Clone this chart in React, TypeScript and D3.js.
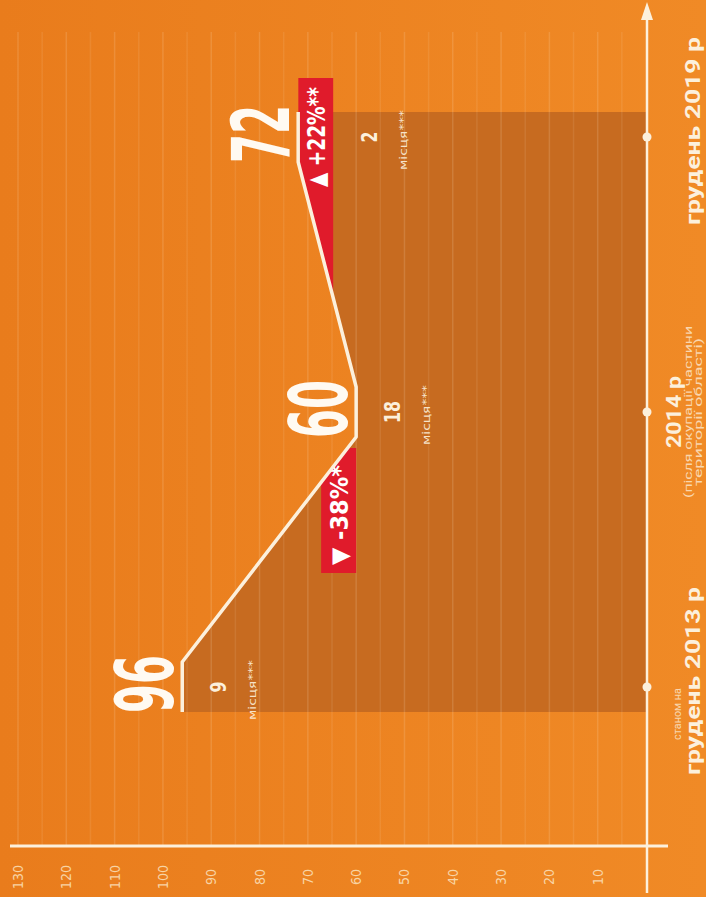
import React from 'react';
import * as d3 from 'd3';

const W = 706;
const H = 897;

// дані
const periods = ['грудень 2013 р', '2014 р', 'грудень 2019 р'];
const notesBefore = ['станом на', '', ''];
const notesAfter = [[], ['(після окупації частини', 'території області)'], []];
const counts = [96, 60, 72];
const places = ['9', '18', '2'];
const changeLabels = ['', '▼ -38%*', '▲ +22%**'];
const valueTicks = d3.range(10, 131, 10);
const gridTicks = d3.range(5, 131, 5);

const AREA = '#c76b20';
const CREAM = '#fcf0dc';
const RED = '#e01b2b';
const COND = "'Liberation Sans Narrow', 'DejaVu Sans Condensed', 'DejaVu Sans', sans-serif";
const SANS = "Roboto, 'Open Sans', 'DejaVu Sans', sans-serif";

const RText = ({ x, y, size, weight = 'normal', fill = CREAM, len, family = COND, opacity = 1, children }) => (
  <text
    transform={`translate(${x},${y}) rotate(-90)`}
    textAnchor="middle"
    fontSize={size}
    fontWeight={weight}
    fontFamily={family}
    fill={fill}
    opacity={opacity}
    textLength={len}
    lengthAdjust={len ? 'spacingAndGlyphs' : undefined}
  >
    {children}
  </text>
);

export default function App() {
  // value axis runs right-to-left, time axis bottom-to-top (chart is turned 90°)
  const vx = d3.scaleLinear().domain([0, 130]).range([646, 18]);
  const ty = d3.scalePoint().domain(periods).range([687, 137]);
  const half = 25;
  const axisX = vx(0) + 1;

  const pts = [];
  periods.forEach((p, i) => {
    pts.push({ y: ty(p) + half, v: counts[i] });
    pts.push({ y: ty(p) - half, v: counts[i] });
  });

  const area = d3.area().y(d => d.y).x0(vx(0)).x1(d => vx(d.v))(pts);
  const line = d3.line().x(d => vx(d.v)).y(d => d.y)(pts);

  // region to the right of the line, used to cut the red badges
  const last = pts[pts.length - 1];
  const clip = 'M' + vx(pts[0].v) + ',2000 ' +
    pts.map(d => `L${vx(d.v)},${d.y}`).join(' ') +
    ` L${vx(last.v)},-1000 L2000,-1000 L2000,2000 Z`;

  const badges = changeLabels.map((lab, i) => {
    if (!lab) return null;
    const c = ty(periods[i]);
    const x = vx(counts[i]);
    const up = counts[i] > counts[i - 1];
    return up
      ? { x0: x, x1: x + 35, y0: c - 59, y1: c + 200, tx: x + 27, ty: c, lab }
      : { x0: x - 35, x1: x, y0: c + 36, y1: c + 161, tx: x - 8, ty: c + 103, lab };
  });

  return (
    <svg width={W} height={H} style={{ position: 'absolute', left: 0, top: 0 }}>
      <defs>
        <linearGradient id="bg" x1="0" x2="1" y1="0" y2="0">
          <stop offset="0" stopColor="#e97c1c" />
          <stop offset="1" stopColor="#f08a26" />
        </linearGradient>
        <clipPath id="right-of-line">
          <path d={clip} />
        </clipPath>
      </defs>
      <rect width={W} height={H} fill="url(#bg)" />

      <path d={area} fill={AREA} />

      {gridTicks.map(t => (
        <line key={t} x1={vx(t)} x2={vx(t)} y1={32} y2={845}
          stroke="#fff2dc" strokeWidth={1.5} opacity={t % 10 === 0 ? 0.14 : 0.09} />
      ))}

      {badges.map((b, i) => b && (
        <g key={i}>
          <rect x={b.x0} y={b.y0} width={b.x1 - b.x0} height={b.y1 - b.y0}
            fill={RED} clipPath="url(#right-of-line)" />
          <RText x={b.tx} y={b.ty} size={24} weight="bold" fill="#fff" len={100}>{b.lab}</RText>
        </g>
      ))}

      <path d={line} fill="none" stroke={CREAM} strokeWidth={3.5} strokeLinejoin="round" />

      {periods.map((p, i) => {
        const c = ty(p);
        const x = vx(counts[i]);
        const shift = badges[i] && counts[i] > counts[i - 1] ? 35 : 0;
        return (
          <g key={p}>
            <RText x={x - 9} y={c - 3} size={80} weight="bold" fill="#fffaf2" len={58}>{counts[i]}</RText>
            <RText x={x + 44 + shift} y={c} size={22} weight="bold" len={places[i].length * 11}>{places[i]}</RText>
            <RText x={x + 74 + shift} y={c + 3} size={11} len={60} opacity={0.9}>місця***</RText>
          </g>
        );
      })}

      {/* value axis */}
      <line x1={10} x2={668} y1={846} y2={846} stroke={CREAM} strokeWidth={3} />
      {valueTicks.map(t => (
        <RText key={t} x={vx(t) + 5} y={877} size={14} fill="#fbe2bd" opacity={0.85}
          len={String(t).length * 8}>{t}</RText>
      ))}

      {/* time axis */}
      <line x1={axisX} x2={axisX} y1={893} y2={14} stroke={CREAM} strokeWidth={2.5} />
      <path d={`M${axisX},2 L${axisX - 6},20 L${axisX + 6},20 Z`} fill={CREAM} />
      {periods.map((p, i) => {
        const c = ty(p);
        const hasNotes = notesAfter[i].length > 0;
        return (
          <g key={p}>
            <circle cx={axisX} cy={c} r={4.5} fill={CREAM} />
            {notesBefore[i] && (
              <RText x={681} y={c + 27} size={10} family={SANS} opacity={0.75} len={52}>{notesBefore[i]}</RText>
            )}
            <RText x={hasNotes ? 681 : 700} y={c - (hasNotes ? 0 : 6)} size={21} weight="bold" family={SANS}
              len={hasNotes ? 72 : 188}>{p}</RText>
            {notesAfter[i].map((n, j) => (
              <RText key={n} x={692 + j * 10} y={c} size={10.5} family={SANS} opacity={0.75}
                len={j === 0 ? 172 : 148}>{n}</RText>
            ))}
          </g>
        );
      })}
    </svg>
  );
}
